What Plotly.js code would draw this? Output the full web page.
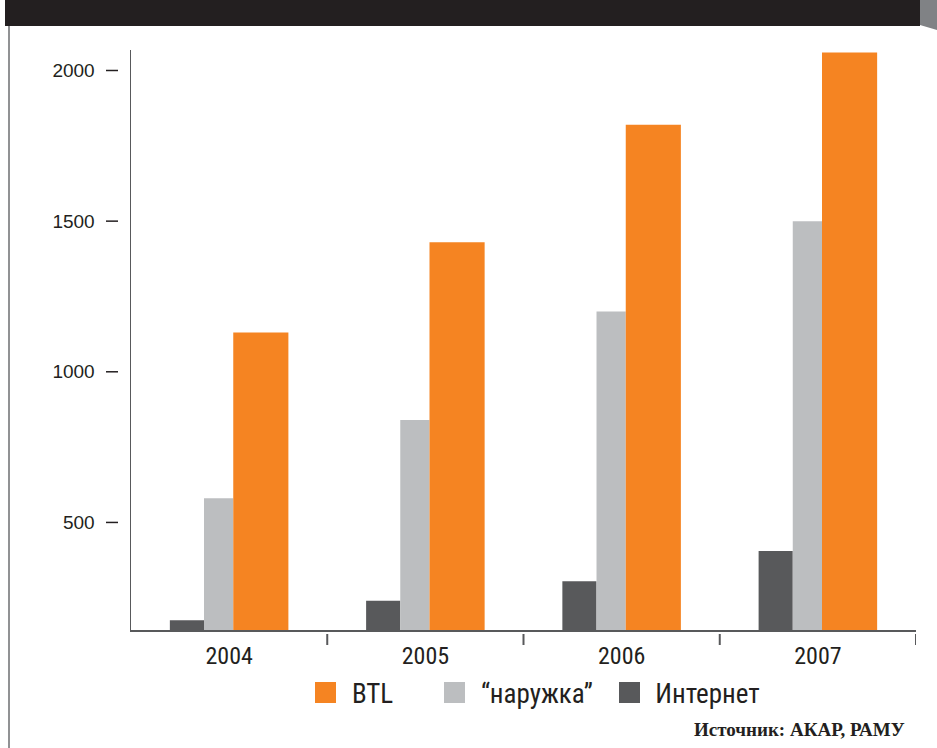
<!DOCTYPE html>
<html>
<head>
<meta charset="utf-8">
<script src="https://cdn.plot.ly/plotly-3.0.1.min.js"></script>
<style>
  html, body { margin: 0; padding: 0; background: #ffffff; }
  #chart { width: 937px; height: 748px; }
  #chart .xtick text,
  #chart g.annotation[data-index="0"] text,
  #chart g.annotation[data-index="1"] text,
  #chart g.annotation[data-index="2"] text { font-stretch: 75% !important; }
</style>
</head>
<body>
<div id="chart"></div>
<script>
// ---- data ----
const years = ['2004', '2005', '2006', '2007'];
const btl = [1130, 1430, 1820, 2060];
const outdoor = [580, 840, 1200, 1500];
const internet = [175, 240, 305, 405];
const seriesNames = ['BTL', '\u201Cнаружка\u201D', 'Интернет'];
const yTicks = [500, 1000, 1500, 2000];
const sourceText = 'Источник: АКАР, РАМУ';

// ---- styles ----
const cOrange = '#f58422';
const cLight = '#bcbec0';
const cDark = '#58595b';
const cText = '#231f20';
const condensed = 'Roboto, "Open Sans", sans-serif';

const traces = [
  { type: 'bar', name: seriesNames[2], x: years, y: internet, marker: { color: cDark },
    offset: -0.302, width: 0.174, hoverinfo: 'none' },
  { type: 'bar', name: seriesNames[1], x: years, y: outdoor, marker: { color: cLight },
    offset: -0.128, width: 0.149, hoverinfo: 'none' },
  { type: 'bar', name: seriesNames[0], x: years, y: btl, marker: { color: cOrange },
    offset: 0.021, width: 0.281, hoverinfo: 'none' }
];

// pixel helpers for paper coords (plot area x 131..916, y 50..630)
const PL = 131, PR = 916, PT = 50, PB = 630;
const px = p => (p - PL) / (PR - PL);
const py = p => (PB - p) / (PB - PT);

const shapes = [];
// top black band
shapes.push({ type: 'rect', xref: 'paper', yref: 'paper', x0: px(5), x1: px(920), y0: py(26), y1: py(0),
  fillcolor: '#231f20', line: { width: 0 }, layer: 'above' });
// grey slanted tab
shapes.push({ type: 'path', xref: 'paper', yref: 'paper',
  path: `M ${px(920)} ${py(0)} L ${px(937)} ${py(0)} L ${px(937)} ${py(30)} L ${px(920)} ${py(25)} Z`,
  fillcolor: '#808285', line: { width: 0 } });
// left border line
shapes.push({ type: 'line', xref: 'paper', yref: 'paper', x0: px(9), x1: px(9), y0: py(26), y1: py(748),
  line: { color: '#6d6e71', width: 1.5 } });
// y tick dashes
yTicks.forEach(v => shapes.push({ type: 'line', xref: 'paper', yref: 'y', x0: px(106), x1: px(118), y0: v, y1: v,
  line: { color: cText, width: 1.5 } }));
// category dividers below axis
[0.5, 1.5, 2.5, 3.5].forEach(v => shapes.push({ type: 'line', xref: 'x', yref: 'paper', x0: v, x1: v,
  y0: py(634), y1: py(645), line: { color: cDark, width: 2 } }));
// legend swatches
const swatchX = [315, 444, 619];
const swatchCol = [cOrange, cLight, cDark];
swatchX.forEach((x, i) => shapes.push({ type: 'rect', xref: 'paper', yref: 'paper',
  x0: px(x), x1: px(x + 21), y0: py(703), y1: py(682), fillcolor: swatchCol[i], line: { width: 0 } }));

const annotations = [];
const legTextCenter = [372, 537, 707];
legTextCenter.forEach((x, i) => annotations.push({ xref: 'paper', yref: 'paper', x: px(x), y: py(694),
  xanchor: 'center', yanchor: 'middle', text: seriesNames[i], showarrow: false,
  font: { family: condensed, size: 27, color: cText } }));
annotations.push({ xref: 'paper', yref: 'paper', x: px(907), y: py(729), xanchor: 'right', yanchor: 'middle',
  text: '<b>' + sourceText + '</b>', showarrow: false,
  font: { family: '"Liberation Serif", "DejaVu Serif", serif', size: 19, color: cText } });

const layout = {
  width: 937, height: 748,
  margin: { l: PL, r: 937 - PR, t: PT, b: 748 - PB, pad: 0 },
  paper_bgcolor: '#ffffff', plot_bgcolor: '#ffffff',
  barmode: 'overlay', showlegend: false,
  xaxis: {
    type: 'category', range: [-0.5, 3.5], showgrid: false, zeroline: false,
    showline: true, linecolor: cDark, linewidth: 2, ticks: '',
    ticklabelstandoff: 3,
    tickfont: { family: condensed, size: 24, color: cText }
  },
  yaxis: {
    range: [143, 2068], tickvals: yTicks, ticktext: yTicks.map(String),
    showgrid: false, zeroline: false, showline: true, linecolor: cDark, linewidth: 1.5,
    ticks: '', ticklabelstandoff: 31,
    tickfont: { family: '"Liberation Sans", Arial, sans-serif', size: 19, color: cText }
  },
  shapes: shapes,
  annotations: annotations
};

Plotly.newPlot('chart', traces, layout, { displayModeBar: false, staticPlot: true });
</script>
</body>
</html>
